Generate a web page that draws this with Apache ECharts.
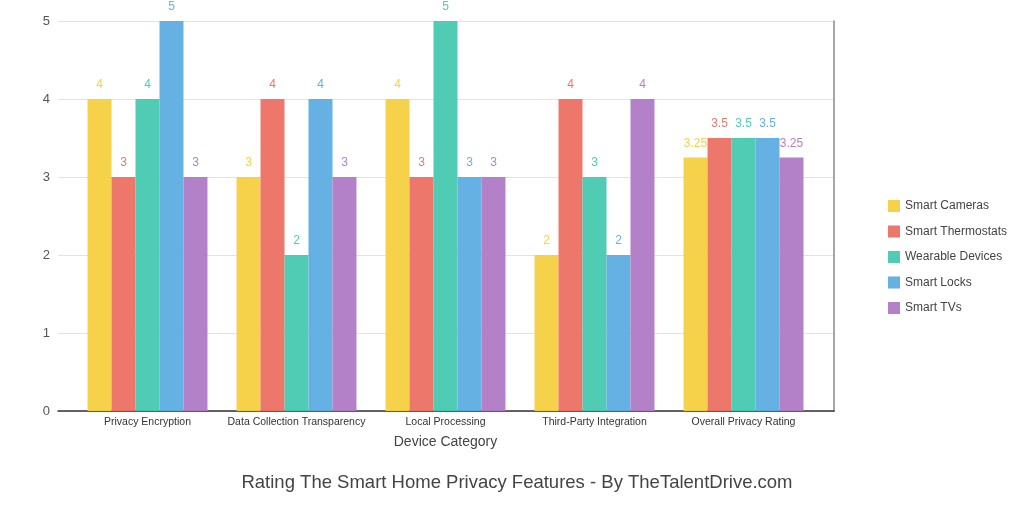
<!DOCTYPE html>
<html><head><meta charset="utf-8">
<script src="https://cdn.jsdelivr.net/npm/echarts@6/dist/echarts.min.js"></script>
<style>html,body{margin:0;padding:0;background:#fff}#c{width:1024px;height:512px}</style>
</head><body><div id="c"></div>
<script>
const categories = ["Privacy Encryption","Data Collection Transparency","Local Processing","Third-Party Integration","Overall Privacy Rating"];
const seriesNames = ["Smart Cameras","Smart Thermostats","Wearable Devices","Smart Locks","Smart TVs"];
const smartCameras = [4,3,4,2,3.25];
const smartThermostats = [3,4,3,4,3.5];
const wearableDevices = [4,2,5,3,3.5];
const smartLocks = [5,4,3,2,3.5];
const smartTVs = [3,3,3,4,3.25];
const yTicks = [0,1,2,3,4,5];
const colors = ["#F4D03F","#EC7063","#48C9B0","#5DADE2","#AF7AC5"];
const values = [smartCameras,smartThermostats,wearableDevices,smartLocks,smartTVs];
const chart = echarts.init(document.getElementById('c'));
chart.setOption({
  textStyle:{fontFamily:'Liberation Sans, Arial, sans-serif'},
  animation:false,
  color: colors,
  title:{text:'Rating The Smart Home Privacy Features - By TheTalentDrive.com', left:512, textAlign:'center', top:468, textStyle:{fontSize:18.5, fontWeight:'normal', color:'#444'}},
  legend:{orient:'vertical', left:883, top:195, itemWidth:12, itemHeight:12, itemGap:13.5, icon:'rect', textStyle:{fontSize:12, color:'#444'}, data:seriesNames},
  grid:[{left:58, right:190, top:21, bottom:101, containLabel:false},
        {left:73, right:206, top:21, bottom:101, containLabel:false}],
  xAxis:[{gridIndex:0, type:'category', data:categories, axisLine:{lineStyle:{color:'#333', width:1.5}}, axisTick:{show:false}, axisLabel:{show:false}},
    {gridIndex:1, type:'category', data:categories, name:'Device Category', nameLocation:'middle', nameGap:24, nameTextStyle:{fontSize:14, color:'#444'},
    axisLine:{show:false}, axisTick:{show:false}, axisLabel:{fontSize:10.5, color:'#333', margin:6, interval:0}}],
  yAxis:[{gridIndex:0, type:'value', min:0, max:5, interval:1, axisLabel:{fontSize:13, color:'#555', margin:8}, axisLine:{show:false}, axisTick:{show:false}, splitLine:{lineStyle:{color:'#e3e3e3'}}},
    {gridIndex:0, type:'value', min:0, max:5, interval:1, position:'right', axisLabel:{show:false}, axisLine:{show:true, lineStyle:{color:'#888', width:1.5}}, axisTick:{show:false}, splitLine:{show:false}},
    {gridIndex:1, type:'value', min:0, max:5, interval:1, show:false}],
  series: seriesNames.map((n,i)=>({name:n, type:'bar', xAxisIndex:1, yAxisIndex:2, data:values[i], barGap:'0%', barCategoryGap:'19.5%',
    itemStyle:{color:colors[i], opacity:0.95},
    label:{show:true, position:'top', color:colors[i], fontSize:12, distance:8}}))
});
</script></body></html>
